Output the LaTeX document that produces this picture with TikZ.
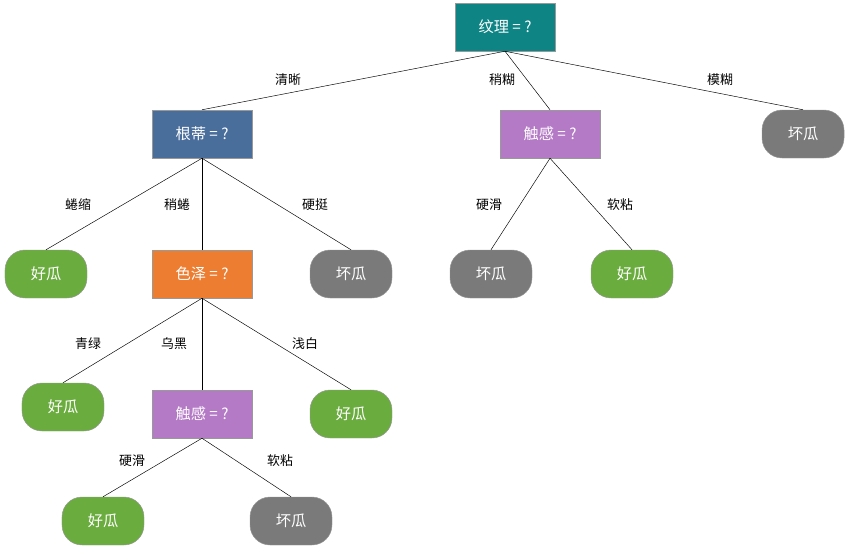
\documentclass[tikz,border=0pt]{standalone}
\usepackage{fontspec}
\setmainfont{Noto Sans CJK SC}
\definecolor{tealbox}{HTML}{0E8484}
\definecolor{bluebox}{HTML}{4A6E9C}
\definecolor{purplebox}{HTML}{B47AC6}
\definecolor{orangebox}{HTML}{EC7D31}
\definecolor{goodgreen}{HTML}{6AAC3E}
\definecolor{badgray}{HTML}{7A7A7A}
\begin{document}
\begin{tikzpicture}[x=0.03cm, y=-0.03cm, font=\fontsize{11pt}{13pt}\selectfont]
%% one unit is one pixel of the reference, y grows downwards
\tikzstyle{arc}=[black, thin]
\tikzstyle{attrbox}=[draw=black!40, text=white, minimum width=3cm, minimum height=1.44cm, font=\fontsize{13pt}{15pt}\selectfont]
\tikzstyle{leaf}=[rounded corners=0.6cm, draw=black!40, text=white, minimum width=2.46cm, minimum height=1.44cm, font=\fontsize{13pt}{15pt}\selectfont]
\tikzstyle{good}=[leaf, fill=goodgreen]
\tikzstyle{bad}=[leaf, fill=badgray]
\useasboundingbox (0,0) rectangle (850,554);
%% decision nodes %%
\node[attrbox, fill=tealbox] at (505,27) (Texture) {纹理 = ?};
\node[attrbox, fill=bluebox] at (202,134) (Root) {根蒂 = ?};
\node[attrbox, fill=purplebox] at (550,134) (TouchA) {触感 = ?};
\node[attrbox, fill=orangebox] at (202,274) (Color) {色泽 = ?};
\node[attrbox, fill=purplebox] at (202,414) (TouchB) {触感 = ?};
%% leaves %%
\node[bad] at (803,134) (BadA) {坏瓜};
\node[good] at (46,274) (GoodA) {好瓜};
\node[bad] at (351,274) (BadB) {坏瓜};
\node[bad] at (491,274) (BadC) {坏瓜};
\node[good] at (632,274) (GoodB) {好瓜};
\node[good] at (63,407) (GoodC) {好瓜};
\node[good] at (351,414) (GoodD) {好瓜};
\node[good] at (103,521) (GoodE) {好瓜};
\node[bad] at (291,521) (BadD) {坏瓜};
%% arcs %%
\draw[arc] (Texture.south) -- (Root.north);
\draw[arc] (Texture.south) -- (TouchA.north);
\draw[arc] (Texture.south) -- (BadA.north);
\draw[arc] (Root.south) -- (GoodA.north);
\draw[arc] (Root.south) -- (Color.north);
\draw[arc] (Root.south) -- (BadB.north);
\draw[arc] (TouchA.south) -- (BadC.north);
\draw[arc] (TouchA.south) -- (GoodB.north);
\draw[arc] (Color.south) -- (GoodC.north);
\draw[arc] (Color.south) -- (TouchB.north);
\draw[arc] (Color.south) -- (GoodD.north);
\draw[arc] (TouchB.south) -- (GoodE.north);
\draw[arc] (TouchB.south) -- (BadD.north);
%% arc labels %%
\node at (288,80) (lClear) {清晰};
\node at (502,80) (lBlurA) {稍糊};
\node at (720,80) (lBlurB) {模糊};
\node at (78,205) (lCurl) {蜷缩};
\node at (177,205) (lCurlB) {稍蜷};
\node at (315,205) (lStiff) {硬挺};
\node at (489,205) (lHardA) {硬滑};
\node at (620,205) (lSoftA) {软粘};
\node at (88,344) (lGreen) {青绿};
\node at (174,344) (lBlack) {乌黑};
\node at (305,344) (lWhite) {浅白};
\node at (132,461) (lHardB) {硬滑};
\node at (280,461) (lSoftB) {软粘};
\end{tikzpicture}
\end{document}
